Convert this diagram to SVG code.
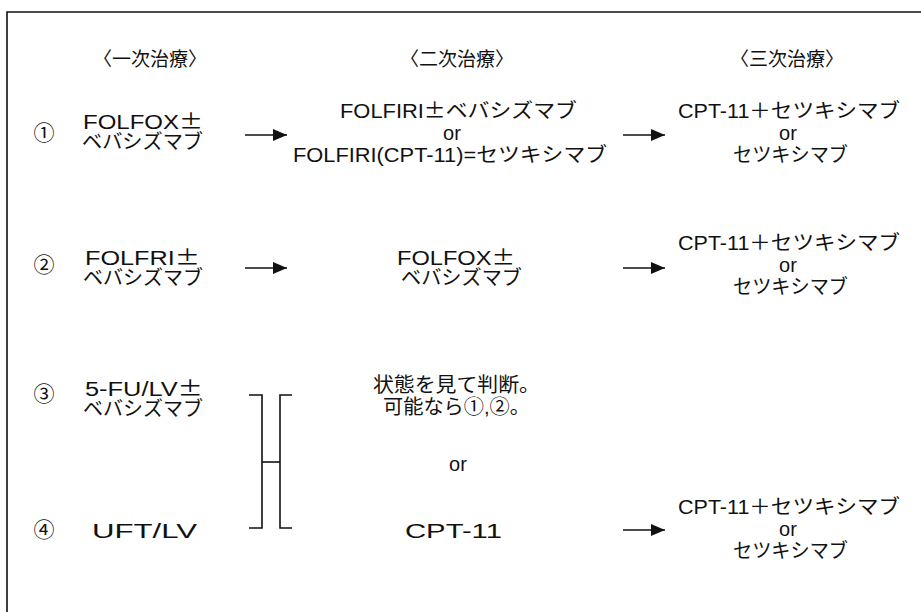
<svg xmlns="http://www.w3.org/2000/svg" width="921" height="612" viewBox="0 0 921 612">
<style>
text{font-family:"Liberation Sans","Noto Sans CJK JP",sans-serif;font-size:20px;fill:#111}
.h{font-family:"Noto Sans CJK JP",sans-serif;font-size:19px}
.n{font-family:"Noto Sans CJK JP",sans-serif;font-size:21px}
.m{text-anchor:middle}
.pm{font-family:"Noto Sans CJK JP",sans-serif}
.ln{stroke:#111;stroke-width:1.6;fill:none}
</style>
<defs>
<marker id="ah" viewBox="0 0 14 12" refX="14" refY="6" markerWidth="14" markerHeight="12" markerUnits="userSpaceOnUse" orient="auto">
<path d="M0,0 L14,6 L0,12 Z" fill="#111"/>
</marker>
</defs>
<rect width="921" height="612" fill="#fff"/>
<g id="frame" class="ln"><path d="M7,612 V12 H921"/></g>
<g id="headers">
<text class="h m" x="150" y="66">〈一次治療〉</text>
<text class="h m" x="457" y="66">〈二次治療〉</text>
<text class="h m" x="787" y="66">〈三次治療〉</text>
</g>
<g id="labels">
<text class="n m" x="44" y="140">①</text>
<text class="n m" x="44" y="272">②</text>
<text class="n m" x="44" y="401">③</text>
<text class="n m" x="44" y="537">④</text>
</g>
<g id="r1c1">
<text x="83" y="129" textLength="120" lengthAdjust="spacingAndGlyphs">FOLFOX<tspan class="pm">±</tspan></text>
<text x="82" y="149" textLength="121" lengthAdjust="spacingAndGlyphs">ベバシズマブ</text>
</g>
<g id="r1c2">
<text x="340" y="118" textLength="237" lengthAdjust="spacingAndGlyphs">FOLFIRI<tspan class="pm">±</tspan>ベバシズマブ</text>
<text class="m" x="452" y="140">or</text>
<text x="293" y="162" textLength="314" lengthAdjust="spacingAndGlyphs">FOLFIRI(CPT-11)=セツキシマブ</text>
</g>
<g id="r1c3">
<text x="678" y="118" textLength="222" lengthAdjust="spacingAndGlyphs">CPT-11＋セツキシマブ</text>
<text class="m" x="788" y="140">or</text>
<text x="733" y="162" textLength="115" lengthAdjust="spacingAndGlyphs">セツキシマブ</text>
</g>
<g id="r2c1">
<text x="85" y="265" textLength="115" lengthAdjust="spacingAndGlyphs">FOLFRI<tspan class="pm">±</tspan></text>
<text x="83" y="285" textLength="120" lengthAdjust="spacingAndGlyphs">ベバシズマブ</text>
</g>
<g id="r2c2">
<text x="397" y="265" textLength="118" lengthAdjust="spacingAndGlyphs">FOLFOX<tspan class="pm">±</tspan></text>
<text x="401" y="285" textLength="121" lengthAdjust="spacingAndGlyphs">ベバシズマブ</text>
</g>
<g id="r2c3">
<text x="678" y="250" textLength="222" lengthAdjust="spacingAndGlyphs">CPT-11＋セツキシマブ</text>
<text class="m" x="788" y="272">or</text>
<text x="733" y="294" textLength="115" lengthAdjust="spacingAndGlyphs">セツキシマブ</text>
</g>
<g id="r3c1">
<text x="85" y="396" textLength="118" lengthAdjust="spacingAndGlyphs">5-FU/LV<tspan class="pm">±</tspan></text>
<text x="83" y="416" textLength="120" lengthAdjust="spacingAndGlyphs">ベバシズマブ</text>
</g>
<g id="r3c2">
<text x="373" y="392" textLength="167" lengthAdjust="spacingAndGlyphs">状態を見て判断。</text>
<text x="383" y="414" textLength="147" lengthAdjust="spacingAndGlyphs">可能なら①,②。</text>
<text class="m" x="458" y="471">or</text>
</g>
<g id="r4c1">
<text x="92" y="538" textLength="105" lengthAdjust="spacingAndGlyphs">UFT/LV</text>
</g>
<g id="r4c2">
<text x="405" y="538" textLength="97" lengthAdjust="spacingAndGlyphs">CPT-11</text>
</g>
<g id="r4c3">
<text x="678" y="514" textLength="222" lengthAdjust="spacingAndGlyphs">CPT-11＋セツキシマブ</text>
<text class="m" x="788" y="536">or</text>
<text x="733" y="558" textLength="115" lengthAdjust="spacingAndGlyphs">セツキシマブ</text>
</g>
<g id="connectors" class="ln">
<line x1="245" y1="135" x2="287" y2="135" marker-end="url(#ah)"/>
<line x1="623" y1="135" x2="665" y2="135" marker-end="url(#ah)"/>
<line x1="245" y1="268" x2="287" y2="268" marker-end="url(#ah)"/>
<line x1="623" y1="268" x2="665" y2="268" marker-end="url(#ah)"/>
<line x1="623" y1="530" x2="665" y2="530" marker-end="url(#ah)"/>
<path d="M249,395 H262 V528 H249"/>
<path d="M292,395 H280 V528 H292"/>
<path d="M262,462 H280"/>
</g>
</svg>
